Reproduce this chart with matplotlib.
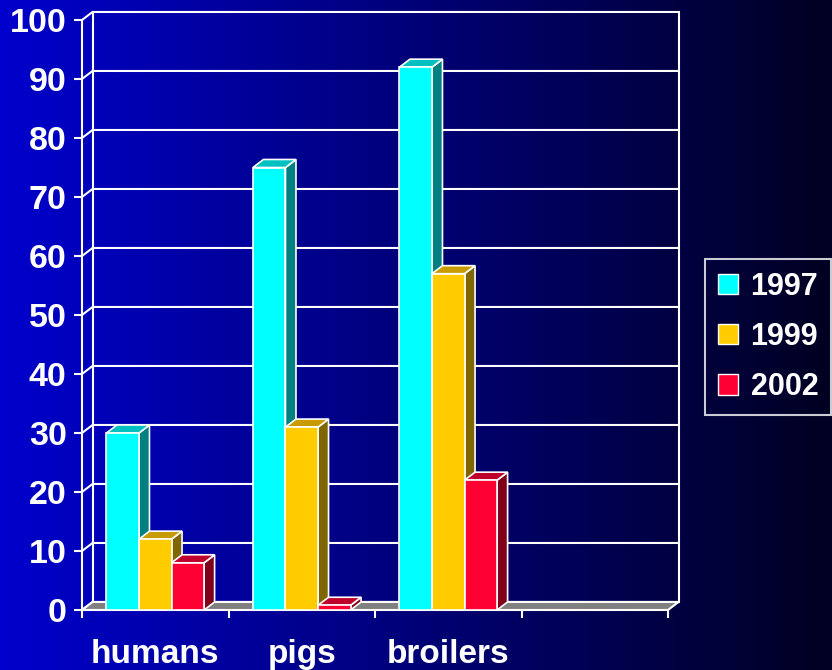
import numpy as np
import matplotlib
matplotlib.use("Agg")
from matplotlib import pyplot as plt
from matplotlib.patches import Polygon, Patch
from matplotlib.colors import LinearSegmentedColormap

# data
categories = ["humans", "pigs", "broilers", ""]
years = ["1997", "1999", "2002"]
v1997 = [30, 75, 92]
v1999 = [12, 31, 57]
v2002 = [8, 0.8, 22]
yticks = list(range(0, 101, 10))

front_colors = ["#00FFFF", "#FFCC00", "#FF0033"]
side_colors = ["#008080", "#806600", "#800019"]
top_colors = ["#00C0C0", "#C89B00", "#C0002C"]

# fake 3d depth, in data units
DX = 0.0717
DY = 1.36
W = 1 / 4.5

plt.rcParams['font.family'] = ['Liberation Sans', 'DejaVu Sans']
plt.rcParams['font.weight'] = 'bold'


def background(fig):
    bg = fig.add_axes([0, 0, 1, 1])
    grad = np.linspace(0, 1, 256).reshape(1, -1)
    cmap = LinearSegmentedColormap.from_list("bg", ["#0000CC", "#000022"])
    bg.imshow(grad, cmap=cmap, aspect='auto', extent=[0, 1, 0, 1])
    bg.axis('off')


def walls(ax):
    # back wall grid + little diagonals from the front axis
    for v in yticks:
        ax.plot([0, DX, len(categories) + DX], [v, v + DY, v + DY],
                color='white', lw=1.5, clip_on=False, zorder=1)
    for x in [DX, len(categories) + DX]:
        ax.plot([x, x], [DY, 100 + DY], color='white', lw=1.5, clip_on=False, zorder=1)
    # floor
    n = len(categories)
    ax.add_patch(Polygon([(0, 0), (n, 0), (n + DX, DY), (DX, DY)], closed=True,
                         fc='#808080', ec='white', lw=1.5, clip_on=False, zorder=2))


def bars(ax):
    series = [v1997, v1999, v2002]
    for j, vals in enumerate(series):
        xs = np.arange(len(vals)) + 0.75 * W + j * W
        for x, v in zip(xs, vals):
            side = [(x + W, 0), (x + W + DX, DY), (x + W + DX, v + DY), (x + W, v)]
            top = [(x, v), (x + W, v), (x + W + DX, v + DY), (x + DX, v + DY)]
            ax.add_patch(Polygon(side, closed=True, fc=side_colors[j], ec='white',
                                 lw=1.2, clip_on=False, zorder=3 + 2 * j))
            ax.add_patch(Polygon(top, closed=True, fc=top_colors[j], ec='white',
                                 lw=1.2, clip_on=False, zorder=3 + 2 * j))
        ax.bar(xs, vals, W, align='edge', color=front_colors[j], edgecolor='white',
               lw=1.2, zorder=4 + 2 * j, clip_on=False)


fig = plt.figure(figsize=(8.32, 6.7), dpi=100)
background(fig)

ax = fig.add_axes([82 / 832, 60 / 670, 586 / 832, 590 / 670])
ax.set_facecolor('none')
ax.set_xlim(0, len(categories))
ax.set_ylim(0, 100)

walls(ax)
bars(ax)

for s in ['top', 'right', 'bottom']:
    ax.spines[s].set_visible(False)
ax.spines['left'].set_color('white')
ax.spines['left'].set_linewidth(1.5)

ax.set_yticks(yticks)
ax.set_yticklabels([str(t) for t in yticks], fontsize=24.5, color='white', fontweight='bold')
ax.tick_params(axis='y', length=6, width=1.5, color='white', pad=5)

ax.set_xticks(range(len(categories) + 1))
ax.set_xticklabels([])
ax.tick_params(axis='x', which='major', length=6, width=1.5, color='white')
ax.set_xticks(np.arange(len(categories)) + 0.5, minor=True)
ax.set_xticklabels(categories, minor=True, fontsize=24, color='white', fontweight='bold')
ax.tick_params(axis='x', which='minor', length=0, pad=21)

handles = [Patch(fc=c, ec='white', lw=1) for c in front_colors]
leg = fig.legend(handles, years, loc='center left', bbox_to_anchor=(705 / 832, 1 - 337 / 670),
                 frameon=True, handlelength=0.65, handleheight=0.65,
                 handletextpad=0.42, labelspacing=0.66, borderpad=0.42, borderaxespad=0,
                 fancybox=False, edgecolor='white', facecolor='none', labelcolor='white',
                 prop={'weight': 'bold', 'size': 22})
leg.get_frame().set_linewidth(1.5)

fig.savefig('out.png', dpi=100)
